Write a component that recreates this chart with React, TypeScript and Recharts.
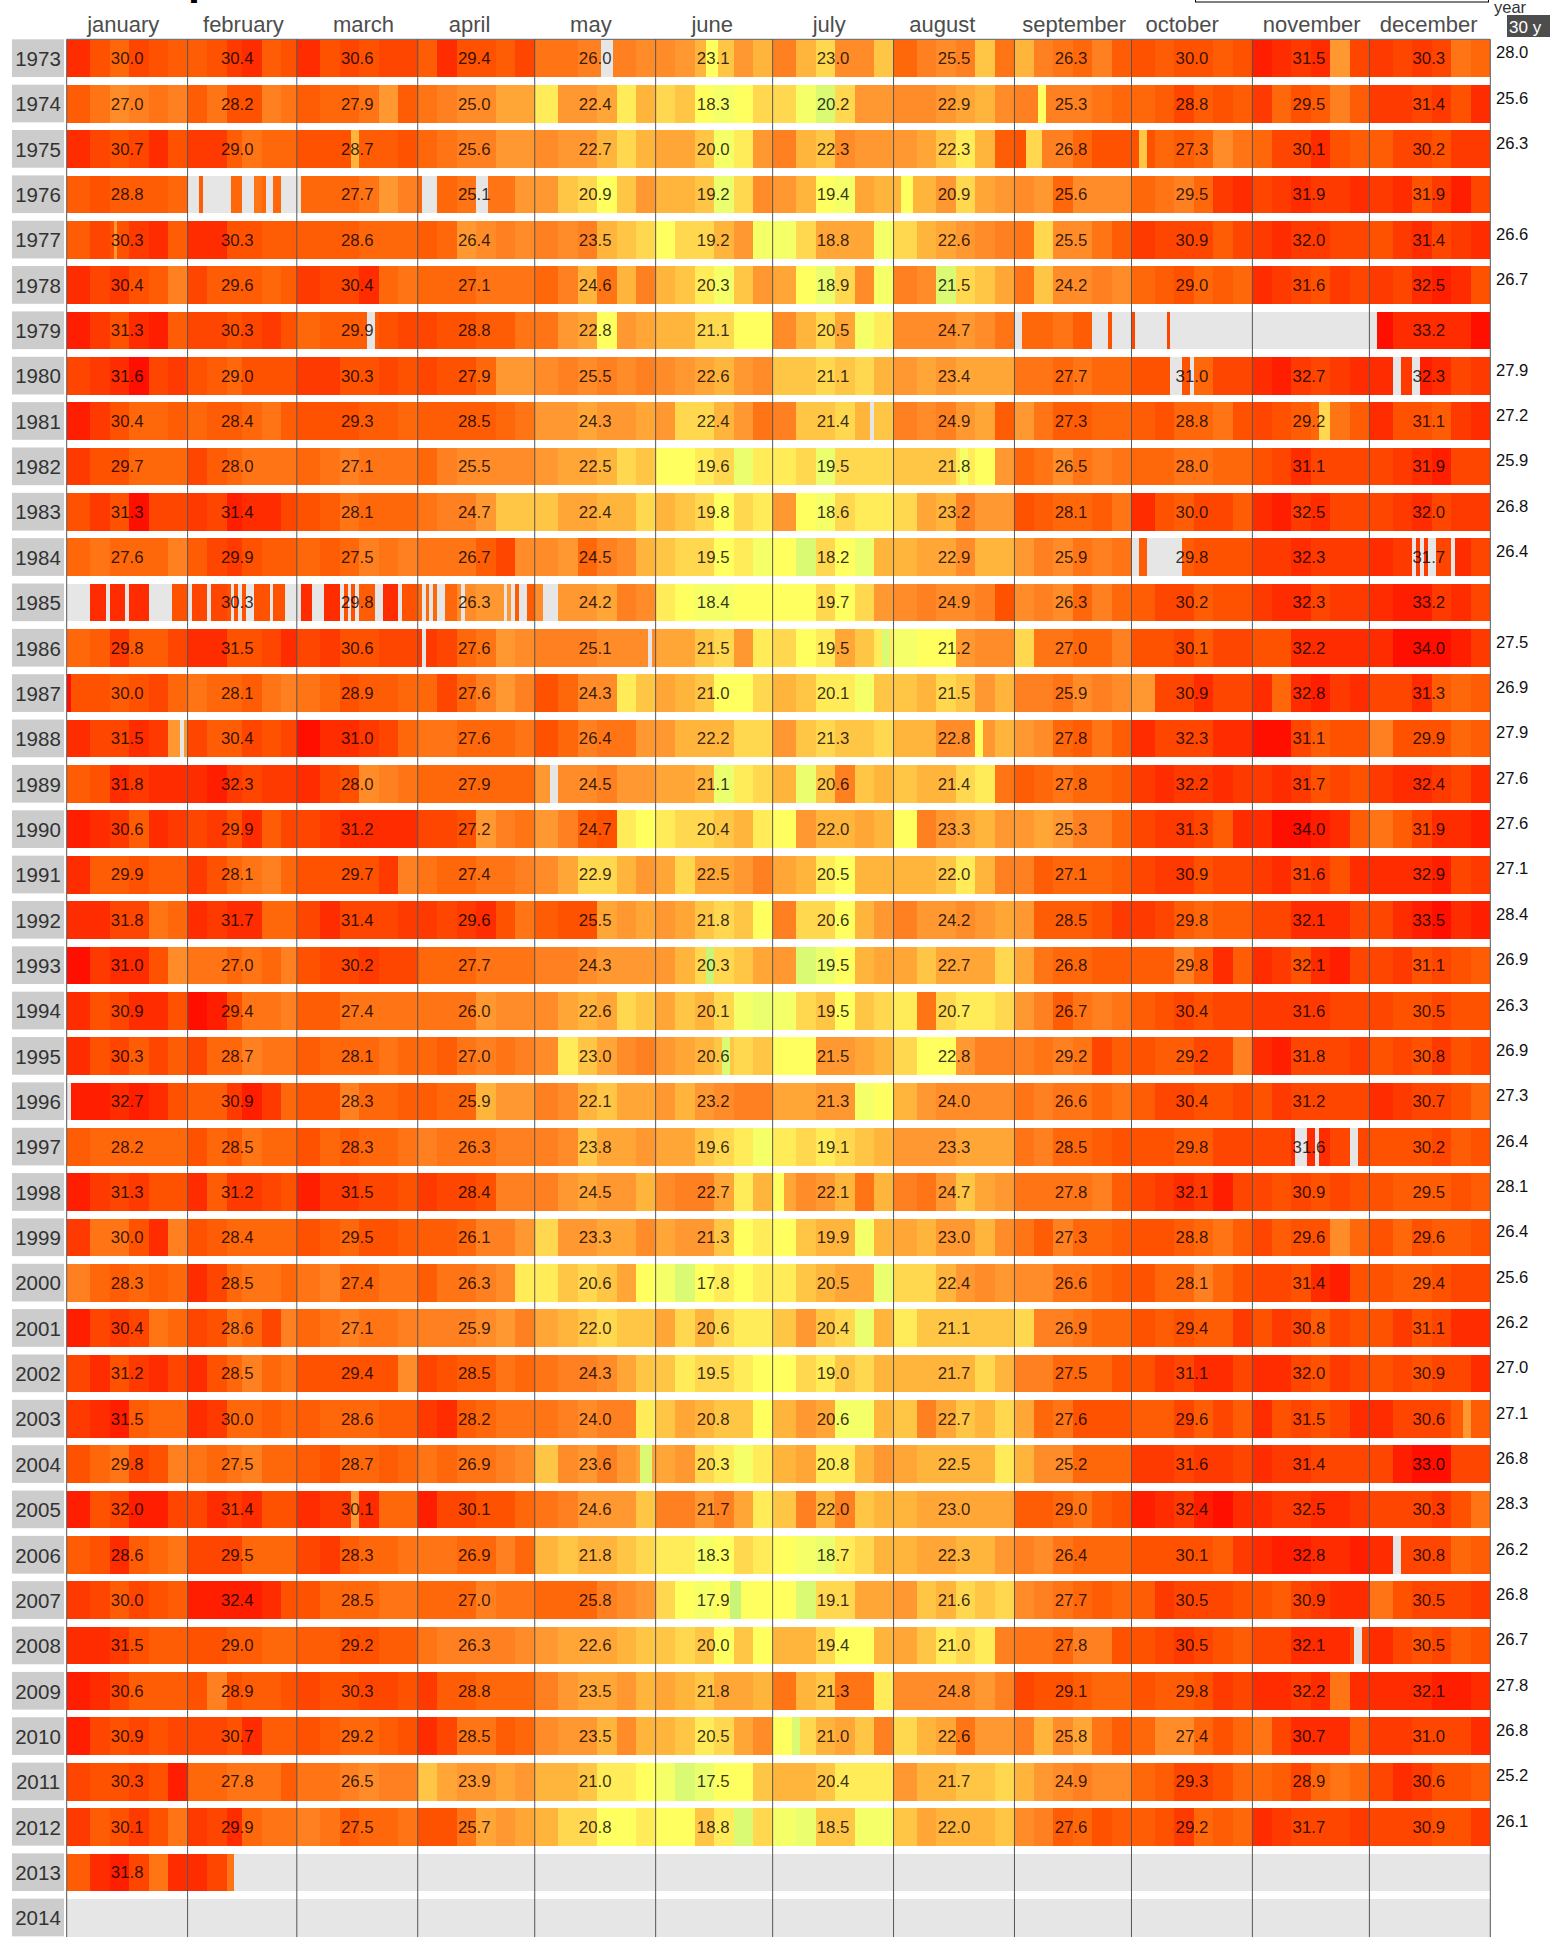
import React from "react";
import { BarChart, Bar, XAxis, YAxis, ReferenceLine } from "recharts";

const FONT = '"Liberation Sans", Arial, sans-serif';
const years = [1973,1974,1975,1976,1977,1978,1979,1980,1981,1982,1983,1984,1985,1986,1987,1988,1989,1990,1991,1992,1993,1994,1995,1996,1997,1998,1999,2000,2001,2002,2003,2004,2005,2006,2007,2008,2009,2010,2011,2012,2013,2014];
const monthNames = ["january","february","march","april","may","june","july","august","september","october","november","december"];
const monthDays = [31,28,31,30,31,30,31,31,30,31,30,31];
const monthNameDays = [14.5,45.3,76.1,103.3,134.4,165.5,195.5,224.5,258.3,286,319.2,349.2];
const yearMeans = [28.0,25.6,26.3,null,26.6,26.7,null,27.9,27.2,25.9,26.8,26.4,null,27.5,26.9,27.9,27.6,27.6,27.1,28.4,26.9,26.3,26.9,27.3,26.4,28.1,26.4,25.6,26.2,27.0,27.1,26.8,28.3,26.2,26.8,26.7,27.8,26.8,25.2,26.1,null,null];

const monthMeans = [
[30.0,30.4,30.6,29.4,26.0,23.1,23.0,25.5,26.3,30.0,31.5,30.3],
[27.0,28.2,27.9,25.0,22.4,18.3,20.2,22.9,25.3,28.8,29.5,31.4],
[30.7,29.0,28.7,25.6,22.7,20.0,22.3,22.3,26.8,27.3,30.1,30.2],
[28.8,null,27.7,25.1,20.9,19.2,19.4,20.9,25.6,29.5,31.9,31.9],
[30.3,30.3,28.6,26.4,23.5,19.2,18.8,22.6,25.5,30.9,32.0,31.4],
[30.4,29.6,30.4,27.1,24.6,20.3,18.9,21.5,24.2,29.0,31.6,32.5],
[31.3,30.3,29.9,28.8,22.8,21.1,20.5,24.7,null,null,null,33.2],
[31.6,29.0,30.3,27.9,25.5,22.6,21.1,23.4,27.7,31.0,32.7,32.3],
[30.4,28.4,29.3,28.5,24.3,22.4,21.4,24.9,27.3,28.8,29.2,31.1],
[29.7,28.0,27.1,25.5,22.5,19.6,19.5,21.8,26.5,28.0,31.1,31.9],
[31.3,31.4,28.1,24.7,22.4,19.8,18.6,23.2,28.1,30.0,32.5,32.0],
[27.6,29.9,27.5,26.7,24.5,19.5,18.2,22.9,25.9,29.8,32.3,31.7],
[null,30.3,29.8,26.3,24.2,18.4,19.7,24.9,26.3,30.2,32.3,33.2],
[29.8,31.5,30.6,27.6,25.1,21.5,19.5,21.2,27.0,30.1,32.2,34.0],
[30.0,28.1,28.9,27.6,24.3,21.0,20.1,21.5,25.9,30.9,32.8,31.3],
[31.5,30.4,31.0,27.6,26.4,22.2,21.3,22.8,27.8,32.3,31.1,29.9],
[31.8,32.3,28.0,27.9,24.5,21.1,20.6,21.4,27.8,32.2,31.7,32.4],
[30.6,29.9,31.2,27.2,24.7,20.4,22.0,23.3,25.3,31.3,34.0,31.9],
[29.9,28.1,29.7,27.4,22.9,22.5,20.5,22.0,27.1,30.9,31.6,32.9],
[31.8,31.7,31.4,29.6,25.5,21.8,20.6,24.2,28.5,29.8,32.1,33.5],
[31.0,27.0,30.2,27.7,24.3,20.3,19.5,22.7,26.8,29.8,32.1,31.1],
[30.9,29.4,27.4,26.0,22.6,20.1,19.5,20.7,26.7,30.4,31.6,30.5],
[30.3,28.7,28.1,27.0,23.0,20.6,21.5,22.8,29.2,29.2,31.8,30.8],
[32.7,30.9,28.3,25.9,22.1,23.2,21.3,24.0,26.6,30.4,31.2,30.7],
[28.2,28.5,28.3,26.3,23.8,19.6,19.1,23.3,28.5,29.8,31.6,30.2],
[31.3,31.2,31.5,28.4,24.5,22.7,22.1,24.7,27.8,32.1,30.9,29.5],
[30.0,28.4,29.5,26.1,23.3,21.3,19.9,23.0,27.3,28.8,29.6,29.6],
[28.3,28.5,27.4,26.3,20.6,17.8,20.5,22.4,26.6,28.1,31.4,29.4],
[30.4,28.6,27.1,25.9,22.0,20.6,20.4,21.1,26.9,29.4,30.8,31.1],
[31.2,28.5,29.4,28.5,24.3,19.5,19.0,21.7,27.5,31.1,32.0,30.9],
[31.5,30.0,28.6,28.2,24.0,20.8,20.6,22.7,27.6,29.6,31.5,30.6],
[29.8,27.5,28.7,26.9,23.6,20.3,20.8,22.5,25.2,31.6,31.4,33.0],
[32.0,31.4,30.1,30.1,24.6,21.7,22.0,23.0,29.0,32.4,32.5,30.3],
[28.6,29.5,28.3,26.9,21.8,18.3,18.7,22.3,26.4,30.1,32.8,30.8],
[30.0,32.4,28.5,27.0,25.8,17.9,19.1,21.6,27.7,30.5,30.9,30.5],
[31.5,29.0,29.2,26.3,22.6,20.0,19.4,21.0,27.8,30.5,32.1,30.5],
[30.6,28.9,30.3,28.8,23.5,21.8,21.3,24.8,29.1,29.8,32.2,32.1],
[30.9,30.7,29.2,28.5,23.5,20.5,21.0,22.6,25.8,27.4,30.7,31.0],
[30.3,27.8,26.5,23.9,21.0,17.5,20.4,21.7,24.9,29.3,28.9,30.6],
[30.1,29.9,27.5,25.7,20.8,18.8,18.5,22.0,27.6,29.2,31.7,30.9],
[31.8,null,null,null,null,null,null,null,null,null,null,null],
[null,null,null,null,null,null,null,null,null,null,null,null],
];

// Six readings per month.
const t1973 = [33,30,28,31,30,29,29,30,32,33,29,30,33,30,31,30,31,31,29,33,30,30,29,31,27,27,26,26,26,25,25,24,22,21,24,22,26,22,20,25,25,21,28,26,25,26,21,27,22,26,27,28,26,29,30,29,30,30,29,30,34,33,32,33,24,31,32,31,32,31,27,28];
const t1974 = [29,27,25,26,27,26,29,27,30,30,26,27,29,28,28,27,24,29,27,26,25,25,23,23,19,24,24,23,19,22,20,21,18,17,18,20,20,17,15,20,24,24,25,25,24,23,22,25,26,26,26,26,27,28,28,29,31,29,30,29,32,28,30,29,26,29,32,32,31,32,30,33];
const t1975 = [33,31,30,31,33,30,32,32,29,27,28,28,30,30,30,29,29,30,28,27,26,26,24,24,25,24,24,22,20,22,23,23,21,17,19,24,26,22,21,25,24,24,24,23,21,19,22,29,30,26,26,28,30,30,30,28,29,28,25,27,28,31,31,33,30,29,29,31,31,30,32,32];
const t1976 = [29,30,29,29,29,28,29,30,28,27,28,28,28,28,28,27,24,26,28,28,27,27,27,24,24,21,20,18,21,24,22,22,21,16,20,25,24,22,18,17,23,22,22,22,24,20,23,24,25,24,28,25,25,25,28,27,26,28,32,33,31,32,33,32,32,33,32,33,30,32,34,31];
const t1977 = [29,31,30,32,33,29,33,33,30,30,29,29,29,29,29,28,28,28,29,28,24,25,26,25,26,25,26,22,21,20,18,20,20,22,24,17,17,20,23,23,23,17,20,22,23,24,25,26,27,20,25,25,27,29,32,31,31,31,29,31,32,33,32,32,31,31,30,32,33,31,32,33];
const t1978 = [33,31,32,30,29,26,31,29,29,29,28,29,32,31,31,33,28,27,28,28,28,27,27,27,28,26,22,27,22,26,22,21,19,17,21,24,23,18,16,20,25,17,26,25,15,20,21,23,27,21,25,25,26,25,28,29,30,28,29,28,33,32,31,30,32,31,32,31,33,34,33,30];
const t1979 = [34,32,30,33,34,29,31,31,30,31,32,30,28,29,29,29,30,31,31,30,30,29,29,27,27,24,23,18,24,23,22,22,20,20,18,18,25,22,20,23,17,19,25,25,25,24,25,27,28,28,27,29,30,30,31,31,31,31,31,31,30,30,30,30,30,30,35,33,33,33,33,35];
const t1980 = [31,32,33,35,31,32,30,29,28,30,30,30,32,32,30,30,31,30,31,30,30,28,24,24,25,26,25,26,25,26,25,24,23,22,24,25,21,21,20,21,20,22,24,23,24,23,23,23,27,27,28,27,28,28,30,30,30,28,31,31,33,34,32,31,32,33,33,32,34,33,31,32];
const t1981 = [34,32,30,28,28,29,28,29,29,28,27,29,30,30,30,29,29,28,29,29,29,29,28,27,24,24,23,24,24,23,24,20,20,22,24,27,26,21,21,20,22,21,26,25,26,24,23,29,24,27,29,29,28,28,29,30,28,28,27,30,31,30,29,28,27,29,33,30,30,29,32,33];
const t1982 = [32,30,30,28,28,28,31,29,28,27,27,27,28,27,26,27,27,27,28,26,25,25,25,25,24,23,23,22,20,21,18,18,19,20,16,19,19,20,16,20,20,20,21,21,21,19,18,24,28,27,25,27,26,27,28,28,27,27,28,28,30,31,33,31,31,31,31,32,33,34,31,31];
const t1983 = [30,32,30,35,31,31,32,31,34,33,33,31,30,29,27,28,28,28,27,26,26,24,21,21,21,23,23,22,22,20,22,21,20,18,20,19,24,18,17,20,19,19,20,23,22,26,24,24,30,29,28,28,29,27,33,30,29,31,31,29,33,34,32,33,31,31,31,32,33,31,32,32];
const t1984 = [28,27,28,28,28,26,29,31,32,30,29,29,28,29,28,26,27,26,27,27,27,29,31,25,25,24,28,26,25,22,21,20,20,18,19,17,18,15,20,18,16,22,22,23,23,25,22,22,24,26,25,27,26,27,29,29,29,30,30,30,32,32,33,32,32,32,33,32,32,31,33,31];
const t1985 = [30,33,33,33,33,30,31,31,30,30,30,30,33,33,30,29,33,30,28,28,25,24,24,29,25,24,24,23,26,25,19,18,17,17,18,18,18,18,20,18,20,24,25,26,25,25,26,30,25,26,25,28,26,28,29,31,31,29,30,30,32,33,33,31,32,32,33,34,34,32,33,31];
const t1986 = [28,29,32,29,29,31,33,33,30,30,31,33,31,32,30,30,31,31,32,31,28,27,24,25,26,26,26,25,25,25,23,23,21,20,24,19,20,18,19,23,21,19,17,18,18,24,25,25,20,27,27,28,28,26,30,30,31,29,31,31,30,30,33,33,33,33,33,35,35,35,34,32];
const t1987 = [30,30,29,30,31,28,27,28,28,29,27,26,27,28,30,29,29,28,28,31,28,26,24,26,30,28,25,25,19,21,23,22,21,18,18,20,22,21,19,19,17,21,21,22,20,21,24,22,26,26,27,25,26,25,24,31,31,33,31,31,33,28,33,34,32,33,31,31,33,29,28,29];
const t1988 = [33,31,31,33,32,24,31,29,29,31,30,31,35,33,33,32,31,28,27,27,28,28,28,27,30,28,26,27,27,24,24,22,22,22,20,20,24,21,20,21,21,20,22,22,25,25,24,22,24,25,28,29,27,29,33,31,31,31,33,33,35,35,31,29,30,30,26,30,30,30,28,29];
const t1989 = [29,30,33,32,33,33,33,34,32,31,32,32,33,31,30,25,26,27,28,28,28,28,28,28,24,25,25,26,24,24,23,23,22,16,19,20,22,16,21,26,21,22,21,22,22,20,19,27,29,28,27,28,28,29,32,33,32,32,33,32,32,33,32,30,31,30,32,33,33,32,31,33];
const t1990 = [34,33,32,29,33,32,31,32,30,33,29,31,31,32,33,33,33,33,31,31,30,24,26,27,24,26,29,30,19,18,19,20,20,21,22,19,18,24,22,22,23,22,18,26,24,23,22,24,24,23,24,26,26,28,31,32,32,31,29,33,33,35,35,34,33,29,27,29,31,33,33,34];
const t1991 = [33,29,29,30,29,29,32,30,28,27,26,28,30,30,30,30,32,26,27,28,28,27,27,26,25,23,20,20,22,24,23,20,23,23,24,26,23,22,19,18,22,22,22,22,21,19,22,26,26,29,28,28,28,29,31,32,32,30,31,31,32,33,31,32,30,33,33,33,33,34,31,32];
const t1992 = [33,33,31,31,27,28,33,32,33,33,28,28,31,33,31,31,31,32,32,31,32,33,30,27,29,30,30,23,24,23,24,23,21,20,21,18,26,20,20,18,22,24,26,24,24,25,24,23,24,29,29,29,30,32,32,31,29,28,29,29,31,31,33,33,33,31,31,33,34,35,33,34];
const t1993 = [35,32,33,33,30,25,27,27,28,27,28,26,30,31,31,32,31,31,28,28,28,27,27,27,26,26,25,24,24,24,24,22,20,20,21,23,24,15,16,18,22,23,23,21,23,23,23,20,23,27,28,28,29,29,29,29,26,29,33,29,33,32,30,33,34,31,31,32,30,31,30,29];
const t1994 = [33,30,31,33,33,30,35,34,30,27,27,26,29,29,27,27,27,27,27,27,27,24,25,25,25,23,22,23,20,21,23,21,22,20,17,16,17,20,21,18,21,20,19,27,20,19,19,20,24,26,29,27,26,27,29,30,31,30,31,31,32,32,32,32,31,31,31,30,30,31,30,30];
const t1995 = [33,30,31,29,31,29,31,28,28,26,27,27,29,28,28,28,27,28,28,29,27,26,27,26,25,19,21,23,25,26,24,23,22,21,20,21,18,18,24,24,23,22,20,18,18,24,26,26,26,27,26,27,31,29,30,29,29,31,31,26,33,34,31,31,31,32,30,31,30,32,30,31];
const t1996 = [34,34,33,34,33,30,29,29,32,34,32,28,30,30,26,28,28,29,29,28,28,22,24,24,26,25,22,21,23,23,24,22,24,25,26,26,23,23,24,24,17,18,22,24,25,25,25,25,27,26,27,27,28,27,29,31,31,30,30,31,30,32,31,31,31,31,33,32,31,31,30,28];
const t1997 = [29,28,28,28,28,28,30,28,29,27,28,28,30,28,29,28,28,27,26,27,27,27,26,26,26,25,21,23,23,24,23,23,21,20,19,17,19,20,19,20,21,22,24,24,24,23,23,23,27,26,28,28,29,30,30,30,29,29,31,31,31,31,33,33,31,31,30,30,30,31,29,30];
const t1998 = [34,32,31,32,30,30,33,29,32,32,31,30,34,32,32,31,31,30,32,31,31,30,26,26,26,24,23,24,24,22,25,26,26,23,19,22,23,25,24,22,27,22,26,27,24,21,23,24,27,27,27,27,26,29,31,32,33,32,34,31,31,30,31,30,31,30,30,29,29,29,30,29];
const t1999 = [32,27,27,30,33,26,30,29,28,28,28,28,30,29,28,30,30,29,29,29,28,26,26,24,20,24,24,23,23,25,23,24,24,21,18,19,18,21,22,22,17,22,23,22,24,24,22,25,27,29,26,28,28,29,30,30,29,28,27,29,31,29,30,30,25,28,30,28,30,29,29,30];
const t2000 = [26,28,29,28,29,28,33,31,28,27,27,28,27,26,28,28,27,27,29,27,27,26,25,19,19,21,20,21,23,18,17,15,18,19,18,19,19,21,22,23,23,16,20,20,22,24,25,24,25,25,27,27,28,29,30,28,28,26,28,30,31,31,30,33,34,30,30,29,29,30,31,31];
const t2001 = [34,31,32,31,27,28,31,30,27,28,31,26,28,27,26,27,27,26,26,26,26,25,24,26,23,22,21,20,21,21,23,20,22,20,19,19,21,24,21,20,16,22,19,21,21,21,21,21,20,26,26,27,28,28,30,29,30,29,29,32,30,32,31,29,31,30,30,32,30,31,33,33];
const t2002 = [31,33,30,32,33,31,33,30,28,26,28,27,30,30,30,30,30,25,31,30,29,29,27,28,27,26,26,25,23,21,21,19,20,20,19,18,18,20,19,21,20,22,22,22,22,22,20,22,26,26,28,28,28,30,30,32,31,33,33,31,33,33,31,30,32,31,30,31,30,31,31,33];
const t2003 = [32,33,34,29,28,28,33,32,28,28,29,28,29,28,28,28,29,29,32,33,29,28,27,27,27,26,25,26,26,19,21,23,22,21,21,18,22,24,23,17,17,22,21,26,23,21,22,20,23,28,27,30,30,30,29,29,31,29,31,29,33,30,31,30,31,33,33,31,31,31,29,29];
const t2004 = [30,28,27,31,30,26,27,28,27,26,28,28,29,30,28,28,29,28,27,28,27,27,26,25,21,25,24,26,24,23,23,24,20,19,17,19,22,23,19,19,22,24,23,22,22,22,22,19,22,25,25,28,28,28,32,32,31,32,32,31,33,32,32,31,31,31,31,34,35,35,31,31];
const t2005 = [34,30,31,34,34,31,31,33,32,33,30,30,33,32,32,33,28,28,34,31,31,30,30,28,27,26,24,24,24,21,26,26,24,26,23,19,21,26,22,26,21,22,22,23,23,23,23,23,29,29,28,27,29,30,34,33,32,34,35,33,33,32,32,33,33,32,31,31,31,32,30,27];
const t2006 = [29,30,33,29,28,27,31,31,31,28,28,28,31,32,29,28,28,27,27,27,28,28,26,28,22,21,22,22,21,20,19,19,17,18,20,19,18,17,16,19,20,22,22,23,23,22,22,24,26,25,27,28,28,28,30,30,30,30,29,32,33,34,34,33,33,34,33,31,31,31,28,29];
const t2007 = [32,31,29,31,30,29,34,34,34,34,33,30,30,28,28,28,27,27,28,28,28,26,27,27,28,28,28,26,25,24,20,18,17,18,18,18,18,15,20,20,23,23,24,21,22,20,21,20,25,26,27,28,29,28,29,32,31,31,31,30,30,29,31,32,33,33,27,30,31,31,31,32];
const t2008 = [33,33,32,30,29,29,30,30,29,29,28,28,29,29,30,30,29,29,27,26,26,26,26,25,24,23,23,23,22,21,21,20,21,18,21,18,22,22,20,18,18,22,23,21,19,20,19,26,27,27,28,26,26,30,30,31,32,31,30,29,31,31,33,33,33,31,33,31,30,31,29,30];
const t2009 = [34,33,31,29,29,29,30,26,30,29,29,30,31,30,30,31,31,30,32,29,29,28,28,28,26,24,23,23,24,22,23,22,21,23,23,22,27,22,21,27,27,19,25,25,25,25,24,26,31,30,30,29,28,28,30,29,29,30,32,31,33,33,32,33,27,33,33,33,33,34,34,33];
const t2010 = [34,31,30,31,30,31,31,31,30,33,29,29,30,29,28,28,29,30,33,31,27,27,29,28,25,24,24,22,25,22,22,21,19,20,23,25,18,20,22,23,21,26,20,22,23,27,24,24,26,22,25,23,27,29,28,25,25,28,30,28,27,31,33,33,33,29,32,32,31,31,31,33];
const t2011 = [31,30,30,31,30,34,28,28,27,27,27,29,27,27,26,25,26,26,21,23,24,24,23,24,22,22,21,19,19,18,17,15,16,18,18,21,22,22,21,19,19,19,24,22,22,21,21,20,22,24,25,26,25,25,28,29,31,31,30,28,28,29,31,28,27,28,31,33,32,30,30,29];
const t2012 = [32,29,30,32,30,27,32,31,33,28,27,27,26,27,29,28,28,27,30,30,27,23,24,23,22,20,20,18,18,19,18,18,21,19,15,20,17,16,21,21,17,17,21,23,22,22,22,21,25,26,29,28,30,29,29,30,32,28,29,28,33,32,31,31,31,32,31,31,31,30,30,32];
const t2013 = [29,33,34,31,27,33,33,31,27,26,26,26];
const t2014: number[] = [];

const yearTemps = [t1973,t1974,t1975,t1976,t1977,t1978,t1979,t1980,t1981,t1982,t1983,t1984,t1985,t1986,t1987,t1988,t1989,t1990,t1991,t1992,t1993,t1994,t1995,t1996,t1997,t1998,t1999,t2000,t2001,t2002,t2003,t2004,t2005,t2006,t2007,t2008,t2009,t2010,t2011,t2012,t2013,t2014];

// Thin stripes seen in the picture: [year, first day of year, day after the last, temperature].
const narrowDays = [
[1973,164,167,18],[1974,249,251,18],[1975,73,75,22],[1975,246,250,20],[1975,275,277,21],[1976,214,217,18],[1977,12,13,24],[1981,321,324,20],[1982,229,231,17],
[1986,209,211,15],[1987,0,1,35],[1988,233,235,18],[1993,164,166,14],[1995,168,170,15],[1998,181,184,18],[2003,358,360,24],[2004,147,150,15],[2005,73,75,24],[2007,170,173,14],[2010,186,188,15],
];

// Days with no reading: [year, first day of year, day after the last].
const missingDays = [
[1973,137,140],[1976,31,34],[1976,35,42],[1976,45,48],[1976,51,53],[1976,55,60],[1976,91,95],[1976,105,108],
[1979,77,79],[1979,243,245],[1979,263,267],[1979,268,273],[1979,274,282],[1979,283,336],
[1980,283,286],[1980,288,289],[1980,340,342],[1980,345,347],[1981,206,207],
[1984,273,275],[1984,277,286],[1984,345,346],[1984,347,348],[1984,349,351],[1984,355,356],
[1985,0,6],[1985,10,11],[1985,15,16],[1985,21,27],[1985,31,32],[1985,36,37],[1985,42,43],[1985,44,45],[1985,46,48],[1985,52,53],[1985,56,60],[1985,63,66],[1985,70,71],[1985,72,73],[1985,74,75],[1985,79,81],[1985,85,86],[1985,91,92],[1985,93,94],[1985,95,97],[1985,101,102],[1985,112,113],[1985,114,115],[1985,116,118],[1985,122,126],
[1986,91,92],[1986,149,150],[1988,29,30],[1989,124,126],[1996,0,1],[1997,315,318],[1997,320,321],[1997,329,331],[2006,340,342],[2008,330,332],[2013,43,365],[2014,0,365],
];

const tempStops = [14,16,18,20,22,24,26,28,30,32,34,36];
const colorStops = [[200,245,120],[235,255,110],[255,255,96],[255,216,80],[255,180,60],[255,152,48],[255,128,32],[255,104,10],[255,82,0],[255,58,0],[255,30,0],[255,0,0]];
const MISSING = "#e6e6e6";

function colorOf(t: number | null) {
  if (t == null) return MISSING;
  const v = Math.max(tempStops[0], Math.min(tempStops[tempStops.length - 1], t));
  let i = 0;
  while (i < tempStops.length - 2 && v > tempStops[i + 1]) i++;
  const f = (v - tempStops[i]) / (tempStops[i + 1] - tempStops[i]);
  const c = colorStops[i].map((a, k) => Math.round(a + (colorStops[i + 1][k] - a) * f));
  return `rgb(${c[0]},${c[1]},${c[2]})`;
}

function runsFor(rowIndex: number) {
  const temps = yearTemps[rowIndex];
  const perDay: (number | null)[] = [];
  monthDays.forEach((len, m) => {
    for (let d = 0; d < len; d++) {
      const v = temps[m * 6 + Math.floor((d * 6) / len)];
      perDay.push(v === undefined ? null : v);
    }
  });
  narrowDays.filter((g) => g[0] === years[rowIndex]).forEach((g) => {
    for (let d = g[1]; d < g[2]; d++) perDay[d] = g[3];
  });
  missingDays.filter((g) => g[0] === years[rowIndex]).forEach((g) => {
    for (let d = g[1]; d < g[2]; d++) perDay[d] = null;
  });
  const runs: { len: number; t: number | null }[] = [];
  perDay.forEach((t) => {
    const last = runs[runs.length - 1];
    if (last && last.t === t) last.len++;
    else runs.push({ len: 1, t });
  });
  return runs;
}

const allRuns = years.map((_, i) => runsFor(i));
const maxRuns = Math.max(...allRuns.map((r) => r.length));
const runIndexes = Array.from({ length: maxRuns }, (_, i) => i);
const rows = years.map((y, i) => {
  const row: any = { year: String(y) };
  allRuns[i].forEach((r, k) => {
    row[`s${k}`] = r.len;
    row[`c${k}`] = colorOf(r.t);
  });
  return row;
});
const labelRows = years.map((y, i) => {
  const row: any = { year: String(y) };
  monthDays.forEach((len, m) => {
    row[`m${m}`] = len;
    row[`v${m}`] = monthMeans[i][m];
  });
  return row;
});

const boundaries = monthDays.reduce((acc, d) => [...acc, acc[acc.length - 1] + d], [0]);

const W = 1550, H = 1945, TOP = 35.5, BOTTOM = 4.8, LEFT = 66.7, RIGHT = 59.7;
const BAR_H = 37.7, BAND = 45.35;
const HALF_GAP = (BAND - BAR_H) / 2;
const labelShift = [0, -5, 0, -2, 0, -1, 0, 0, -2, 0, -2, -1];

const segShape = (i: number) => (p: any) => {
  if (!p.width || p.width <= 0) return <g />;
  return <rect x={p.x} y={p.y} width={p.width} height={p.height} fill={p.payload[`c${i}`]} shapeRendering="crispEdges" />;
};

const monthLabelShape = (m: number) => (p: any) => {
  const v = p.payload[`v${m}`];
  if (v == null) return <g />;
  return (
    <text x={p.x + p.width / 2 + labelShift[m]} y={p.y + p.height / 2 + 5.8} textAnchor="middle" fontFamily={FONT} fontSize={16.8} fill="#000" fillOpacity={0.8}>
      {v.toFixed(1)}
    </text>
  );
};

const YearTick = (p: any) => (
  <g>
    <rect x={12} y={p.y - BAR_H / 2} width={52} height={BAR_H} fill="#cccccc" />
    <text x={38} y={p.y + 7.8} textAnchor="middle" fontFamily={FONT} fontSize={20.5} fill="#333">{p.payload.value}</text>
  </g>
);

const MonthTick = (p: any) => (
  <text x={p.x} y={31.5} textAnchor="middle" fontFamily={FONT} fontSize={22} fill="#4d4d4d">{monthNames[p.index]}</text>
);

const MeanTick = (p: any) => {
  const v = yearMeans[years.indexOf(Number(p.payload.value))];
  if (v == null) return <g />;
  return <text x={1496} y={p.y} fontFamily={FONT} fontSize={16.6} fill="#111">{v.toFixed(1)}</text>;
};

const vLine = (p: any) => <line x1={p.x1} x2={p.x2} y1={TOP + HALF_GAP} y2={H} stroke="#555" strokeWidth={1} />;
const topLine = (p: any) => <line x1={LEFT} x2={W - RIGHT} y1={TOP + HALF_GAP} y2={TOP + HALF_GAP} stroke="#555" strokeWidth={1} />;

export default function App() {
  return (
    <div style={{ position: "absolute", left: 0, top: 0, width: 1550, height: 1937, overflow: "hidden", background: "#fff" }}>
      <div style={{ position: "absolute", left: 0, top: 0 }}>
        <BarChart width={W} height={H} data={rows} layout="vertical" barSize={BAR_H} margin={{ top: 0, right: RIGHT, left: 0, bottom: BOTTOM }}>
          <XAxis type="number" orientation="top" domain={[0, 365]} height={TOP} ticks={monthNameDays} tick={MonthTick} axisLine={false} tickLine={false} interval={0} />
          <YAxis type="category" dataKey="year" width={LEFT} tick={YearTick} axisLine={false} tickLine={false} interval={0} />
          {runIndexes.map((i) => (
            <Bar key={i} dataKey={`s${i}`} stackId="row" isAnimationActive={false} shape={segShape(i)} />
          ))}
        </BarChart>
      </div>
      <div style={{ position: "absolute", left: 0, top: 0 }}>
        <BarChart width={W} height={H} data={labelRows} layout="vertical" barSize={BAR_H} margin={{ top: TOP, right: 0, left: LEFT, bottom: BOTTOM }}>
          <XAxis type="number" domain={[0, 365]} hide />
          <YAxis type="category" dataKey="year" orientation="right" width={RIGHT} tick={MeanTick} axisLine={false} tickLine={false} interval={0} />
          <ReferenceLine y="1973" shape={topLine} ifOverflow="visible" />
          {boundaries.map((d) => (
            <ReferenceLine key={d} x={d} shape={vLine} ifOverflow="visible" />
          ))}
          {monthDays.map((_, m) => (
            <Bar key={m} dataKey={`m${m}`} stackId="labels" isAnimationActive={false} shape={monthLabelShape(m)} />
          ))}
        </BarChart>
      </div>
      <svg width={1550} height={40} style={{ position: "absolute", left: 0, top: 0 }}>
        <text x={188} y={-6} fontFamily={FONT} fontSize={43} fontWeight="bold" fill="#000">p</text>
        <rect x={1195.5} y={-10} width={293} height={12} fill="none" stroke="#000" strokeWidth={1} />
        <text x={1494} y={12.5} fontFamily={FONT} fontSize={16.5} fill="#333">year</text>
        <rect x={1507} y={15} width={43} height={22} fill="#4d4d4d" />
        <text x={1509} y={32.5} fontFamily={FONT} fontSize={17} fill="#fff">30 y</text>
      </svg>
    </div>
  );
}
